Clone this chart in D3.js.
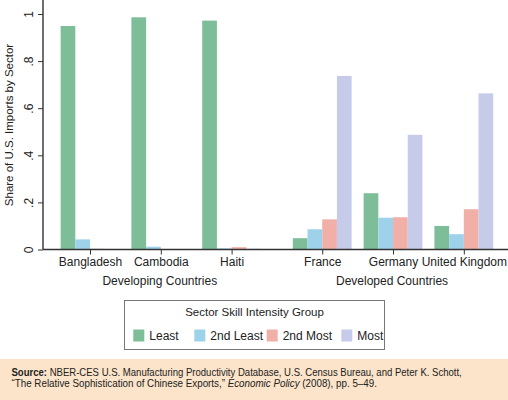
<!DOCTYPE html>
<html><head><meta charset="utf-8">
<script src="https://cdn.jsdelivr.net/npm/d3@7"></script>
<style>html,body{margin:0;padding:0;background:#fff;}svg{display:block;}</style>
</head><body><svg id="c" width="508" height="400"></svg>
<script>
const countries = ["Bangladesh","Cambodia","Haiti","France","Germany","United Kingdom"];
const slots = [0,1,2,3.28,4.28,5.28];
const groups = ["Developing Countries","Developed Countries"];
const groupOf = [0,0,0,1,1,1];
const series = ["Least","2nd Least","2nd Most","Most"];
const least     = [0.949,0.986,0.972,0.048,0.239,0.100];
const least2    = [0.043,0.012,0.005,0.086,0.135,0.065];
const most2     = [0.003,0.002,0.010,0.128,0.137,0.171];
const most      = [0.002,0.001,0.003,0.737,0.487,0.663];
const yTicks = [0,0.2,0.4,0.6,0.8,1];
const yTickLabels = ["0",".2",".4",".6",".8","1"];
const colors = ["#7dbd98","#9ed2ea","#f1b0a7","#c6cbea"];
const values = [least, least2, most2, most];

const svg = d3.select("#c");
const font = "'Liberation Sans', Arial, sans-serif";
const y = d3.scaleLinear().domain([0,1]).range([249.5,14]);
const x = d3.scaleLinear().domain([0,1]).range([90,160.8]);
const bw = 14.7;
const inner = d3.scaleBand().domain(series).range([-2*bw, 2*bw]).padding(0);

// bars
series.forEach((s,si)=>{
  svg.append("g").selectAll("rect").data(values[si]).join("rect")
    .attr("x",(d,i)=>x(slots[i])+inner(s))
    .attr("width",inner.bandwidth())
    .attr("y",d=>y(d))
    .attr("height",d=>y(0)-y(d))
    .attr("fill",colors[si]);
});

// y axis
const ya = svg.append("g").attr("transform","translate(43,0)")
  .call(d3.axisLeft(y).tickValues(yTicks).tickFormat((d,i)=>yTickLabels[i]).tickSize(5).tickPadding(0));
ya.select(".domain").attr("d","M0,0V"+y(0)).attr("stroke","#333").attr("stroke-width",1.4);
ya.selectAll(".tick line").attr("stroke","#333");
ya.selectAll(".tick text").attr("transform","rotate(-90)").attr("x",0).attr("y",-10.5)
  .attr("text-anchor","middle").attr("dy","0").style("font-family",font).style("font-size","12px").attr("fill","#222");

// x axis
const xa = svg.append("g").attr("transform",`translate(0,${y(0)})`)
  .call(d3.axisBottom(x).tickValues(slots).tickFormat((d,i)=>countries[i]).tickSize(5).tickPadding(3));
xa.select(".domain").attr("d","M43,0H508").attr("stroke","#333").attr("stroke-width",1.4);
xa.selectAll(".tick line").attr("stroke","#333");
xa.selectAll(".tick text").style("font-family",font).style("font-size","12px").attr("fill","#222");

// group labels
groups.forEach((g,gi)=>{
  const idx = countries.map((c,i)=>i).filter(i=>groupOf[i]===gi);
  const cx = x(slots[idx[1]]);
  svg.append("text").attr("x",cx-1).attr("y",285).attr("text-anchor","middle")
    .style("font-family",font).style("font-size","12px").attr("fill","#222").text(g);
});

// y title
svg.append("text").attr("transform","translate(12.5,125) rotate(-90)").attr("text-anchor","middle")
  .style("font-family",font).style("font-size","11.5px").attr("fill","#222").text("Share of U.S. Imports by Sector");

// legend
const lg = svg.append("g");
lg.append("rect").attr("x",124.5).attr("y",300.5).attr("width",260).attr("height",49)
  .attr("fill","#fff").attr("stroke","#777").attr("stroke-width",1);
lg.append("text").attr("x",254.5).attr("y",316).attr("text-anchor","middle")
  .style("font-family",font).style("font-size","11.5px").attr("fill","#222").text("Sector Skill Intensity Group");
const lx = [133.3,194.3,266.7,341.3];
series.forEach((s,si)=>{
  lg.append("rect").attr("x",lx[si]).attr("y",329.5).attr("width",11).attr("height",12).attr("fill",colors[si]);
  lg.append("text").attr("x",lx[si]+16).attr("y",340).style("font-family",font).style("font-size","12px")
    .attr("fill","#222").text(s);
});

// source box
svg.append("rect").attr("x",0).attr("y",359).attr("width",508).attr("height",41).attr("fill","#fbe4c9");
const srcFont = "'Liberation Sans', sans-serif";
function srcLine(yPos, target, build){
  const g = svg.append("g");
  const t = g.append("text").attr("x",0).attr("y",0).style("font-family",srcFont)
    .style("font-size","10px").attr("fill","#222");
  build(t);
  const w = t.node().getComputedTextLength();
  g.attr("transform",`translate(11.5,${yPos}) scale(${target/w},1)`);
}
srcLine(375.5, 451, t=>{
  t.append("tspan").style("font-weight","bold").text("Source:");
  t.append("tspan").text(" NBER-CES U.S. Manufacturing Productivity Database, U.S. Census Bureau, and Peter K. Schott,");
});
srcLine(386.5, 366, t=>{
  t.append("tspan").text("\u201CThe Relative Sophistication of Chinese Exports,\u201D ");
  t.append("tspan").style("font-style","italic").text("Economic Policy");
  t.append("tspan").text(" (2008), pp. 5\u201349.");
});
</script></body></html>
